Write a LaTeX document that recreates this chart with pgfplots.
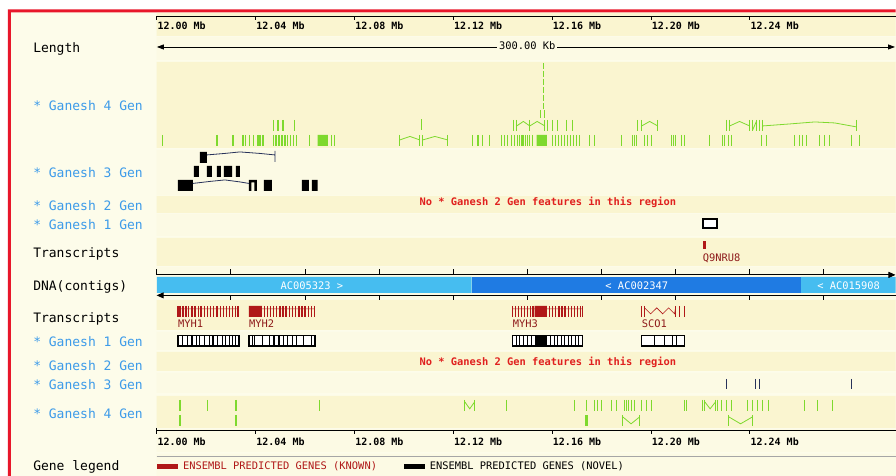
\documentclass[border=0pt]{standalone}
\usepackage{pgfplots}
\pgfplotsset{compat=1.18}
\usepackage{fontspec}
\setmainfont{DejaVu Sans Mono}
\usetikzlibrary{arrows.meta}
\definecolor{bandA}{HTML}{FAF5D0}
\definecolor{bandB}{HTML}{FCFAE4}
\definecolor{pagec}{HTML}{FDFCEA}
\definecolor{gfour}{HTML}{7ED92E}
\definecolor{lblue}{HTML}{3D9BE9}
\definecolor{redtxt}{HTML}{E0201E}
\definecolor{gene}{HTML}{B01818}
\definecolor{genetxt}{HTML}{8E1A1A}
\definecolor{bordc}{HTML}{E8172A}
\definecolor{cLight}{HTML}{46BDF0}
\definecolor{cDark}{HTML}{1F7BE3}
\definecolor{navy}{HTML}{28325A}
\newcommand{\lab}{\fontsize{13}{15}\selectfont}
\newcommand{\sml}{\fontsize{10.4}{12}\selectfont}
\newcommand{\scl}{\fontsize{10}{12}\selectfont\bfseries}
\pgfplotsset{
  feat/.style n args={3}{only marks, mark=|, mark size=#1, color=#2, mark options={solid, line width=#3}},
  blk/.style={fill=#1, draw=none},
}
\tikzset{
  lbl/.style={anchor=base west, inner sep=0pt, font=\lab},
  glbl/.style={anchor=base west, inner sep=0pt, font=\lab, text=lblue},
}
\begin{document}
\begin{tikzpicture}
\begin{axis}[
  width=896pt, height=476pt, scale only axis,
  xmin=11936.615, xmax=12299.047, ymin=0, ymax=476, y dir=reverse,
  hide axis, clip=false, unbounded coords=jump,
]
% page background and border
\addplot[blk=white] coordinates {(11936.615,0)(12299.047,0)(12299.047,476)(11936.615,476)};
\addplot[blk=pagec] coordinates {(11941.06,12.5)(12299.047,12.5)(12299.047,476)(11941.06,476)};
\addplot[blk=bordc] coordinates {(11939.85,9.5)(12299.047,9.5)(12299.047,12.5)(11939.85,12.5) (nan,nan)
  (11939.85,9.5)(11941.06,9.5)(11941.06,476)(11939.85,476)};
% track bands
\addplot[blk=bandA] coordinates {
 (12000,13)(12299.047,13)(12299.047,36)(12000,36) (nan,nan)
 (12000,62)(12299.047,62)(12299.047,148)(12000,148) (nan,nan)
 (12000,196)(12299.047,196)(12299.047,213)(12000,213) (nan,nan)
 (12000,238)(12299.047,238)(12299.047,266)(12000,266) (nan,nan)
 (12000,300)(12299.047,300)(12299.047,330)(12000,330) (nan,nan)
 (12000,352)(12299.047,352)(12299.047,371)(12000,371) (nan,nan)
 (12000,396)(12299.047,396)(12299.047,428)(12000,428)};
\addplot[blk=bandB] coordinates {
 (12000,37)(12299.047,37)(12299.047,60)(12000,60) (nan,nan)
 (12000,150)(12299.047,150)(12299.047,195)(12000,195) (nan,nan)
 (12000,214)(12299.047,214)(12299.047,236)(12000,236) (nan,nan)
 (12000,267)(12299.047,267)(12299.047,298)(12000,298) (nan,nan)
 (12000,332)(12299.047,332)(12299.047,350)(12000,350) (nan,nan)
 (12000,373)(12299.047,373)(12299.047,393)(12000,393) (nan,nan)
 (12000,429)(12299.047,429)(12299.047,452)(12000,452) (nan,nan)
 (12000,454)(12299.047,454)(12299.047,476)(12000,476)};

% ---------- top scale ----------
\addplot[black, line width=0.7pt] coordinates {(12000,16.5)(12299.047,16.5) (nan,nan)
 (12000,16.5)(12000,20) (nan,nan) (12040,16.5)(12040,20) (nan,nan) (12080,16.5)(12080,20) (nan,nan)
 (12120,16.5)(12120,20) (nan,nan) (12160,16.5)(12160,20) (nan,nan) (12200,16.5)(12200,20) (nan,nan)
 (12240,16.5)(12240,20)};
\node[anchor=base west, inner sep=0pt, font=\scl] at (axis cs:12000.3,30) {12.00 Mb};
\node[anchor=base west, inner sep=0pt, font=\scl] at (axis cs:12040.3,30) {12.04 Mb};
\node[anchor=base west, inner sep=0pt, font=\scl] at (axis cs:12080.3,30) {12.08 Mb};
\node[anchor=base west, inner sep=0pt, font=\scl] at (axis cs:12120.3,30) {12.12 Mb};
\node[anchor=base west, inner sep=0pt, font=\scl] at (axis cs:12160.3,30) {12.16 Mb};
\node[anchor=base west, inner sep=0pt, font=\scl] at (axis cs:12200.3,30) {12.20 Mb};
\node[anchor=base west, inner sep=0pt, font=\scl] at (axis cs:12240.3,30) {12.24 Mb};

% ---------- Length ----------
\addplot[black, line width=0.8pt, {Triangle[length=7pt,width=5pt]}-{Triangle[length=7pt,width=5pt]}] coordinates {(12000.1,47)(12298.8,47)};
\node[fill=bandB, inner sep=2pt, anchor=base, font=\sml] at (axis cs:12150,50) {300.00 Kb};

% ---------- Ganesh 4 Gen (top) ----------
\addplot[feat={5.5}{gfour}{1.3pt}] coordinates {
 (12002.5,140.5)(12024.4,140.5)(12030.9,140.5)(12034.9,140.5)(12036.1,140.5)(12037.7,140.5)(12039.3,140.5)
 (12041.0,140.5)(12041.8,140.5)(12043.0,140.5)(12047.4,140.5)(12048.3,140.5)(12049.5,140.5)(12050.7,140.5)
 (12051.9,140.5)(12053.1,140.5)(12054.3,140.5)(12055.5,140.5)(12056.7,140.5)(12062.0,140.5)(12070.9,140.5)
 (12072.1,140.5)(12098.4,140.5)(12106.5,140.5)(12107.7,140.5)(12117.8,140.5)(12127.9,140.5)(12130.0,140.5)
 (12132.0,140.5)(12134.8,140.5)(12139.7,140.5)(12140.9,140.5)(12142.1,140.5)(12143.7,140.5)(12144.9,140.5)
 (12146.1,140.5)(12146.9,140.5)(12147.8,140.5)(12148.6,140.5)(12149.4,140.5)(12150.2,140.5)(12151.0,140.5)
 (12152.2,140.5)(12160.3,140.5)(12161.5,140.5)(12162.7,140.5)(12163.9,140.5)(12165.1,140.5)(12166.4,140.5)
 (12167.6,140.5)(12168.8,140.5)(12170.0,140.5)(12171.2,140.5)(12175.3,140.5)(12177.3,140.5)(12188.2,140.5)
 (12192.7,140.5)(12193.5,140.5)(12194.3,140.5)(12197.5,140.5)(12198.7,140.5)(12200.3,140.5)(12208.4,140.5)
 (12209.2,140.5)(12210.0,140.5)(12212.5,140.5)(12213.7,140.5)(12223.8,140.5)(12229.1,140.5)(12229.9,140.5)
 (12231.5,140.5)(12232.7,140.5)(12244.8,140.5)(12246.9,140.5)(12258.2,140.5)(12260.2,140.5)(12261.4,140.5)
 (12263.0,140.5)(12268.3,140.5)(12270.3,140.5)(12272.3,140.5)(12281.2,140.5)(12284.5,140.5)};
\addplot[blk=gfour] coordinates {(12065.2,135)(12069.3,135)(12069.3,146)(12065.2,146) (nan,nan)
 (12153.8,135)(12157.9,135)(12157.9,146)(12153.8,146)};
\addplot[feat={5.5}{gfour}{1.3pt}] coordinates {
 (12047.4,125.5)(12049.1,125.5)(12051.1,125.5)(12055.9,125.5)(12107.3,125)(12144.5,125.5)(12145.7,125.5)
 (12151.0,125.5)(12157.1,125.5)(12158.3,125.5)(12160.3,125.5)(12162.3,125.5)(12166.0,125.5)(12168.4,125.5)
 (12194.7,125.5)(12196.3,125.5)(12202.8,125.5)(12230.7,125.5)(12231.9,125.5)(12240.0,125.5)(12241.2,125.5)
 (12242.8,125.5)(12244.0,125.5)(12245.2,125.5)(12283.3,125.5)};
\addplot[feat={4}{gfour}{1.1pt}] coordinates {(12155.4,114)(12157.1,114)};
\addplot[feat={3}{gfour}{1.1pt}] coordinates {(12156.7,66)(12156.7,74)(12156.7,82)(12156.7,90)(12156.7,98)(12156.7,106)};
\addplot[gfour, line width=0.8pt] coordinates {
 (12098.4,140)(12102.5,136.5)(12106.5,140) (nan,nan) (12107.7,140)(12112.6,136.5)(12117.8,140) (nan,nan)
 (12145.7,126)(12148.4,121.5)(12151.0,126) (nan,nan) (12151.0,126)(12154.0,121.5)(12157.1,126) (nan,nan)
 (12196.3,126)(12199.5,121.5)(12202.8,126) (nan,nan) (12231.9,126)(12235.9,121.5)(12240.0,126) (nan,nan)
 (12241.2,130)(12242.8,121) (nan,nan)
 (12245.2,126)(12256.2,124)(12266.3,122)(12274.4,123)(12283.3,127)};

% ---------- Ganesh 3 Gen (top) ----------
\addplot[blk=black] coordinates {
 (12017.5,152)(12020.3,152)(12020.3,163)(12017.5,163) (nan,nan)
 (12015.1,166)(12017.1,166)(12017.1,177)(12015.1,177) (nan,nan)
 (12020.3,166)(12022.4,166)(12022.4,177)(12020.3,177) (nan,nan)
 (12024.4,166)(12026.0,166)(12026.0,177)(12024.4,177) (nan,nan)
 (12027.2,166)(12030.5,166)(12030.5,177)(12027.2,177) (nan,nan)
 (12032.1,166)(12033.7,166)(12033.7,177)(12032.1,177) (nan,nan)
 (12008.6,180)(12014.7,180)(12014.7,191)(12008.6,191) (nan,nan)
 (12037.3,180)(12038.3,180)(12038.3,191)(12037.3,191) (nan,nan)
 (12039.6,180)(12040.6,180)(12040.6,191)(12039.6,191) (nan,nan)
 (12037.3,180)(12040.6,180)(12040.6,182.5)(12037.3,182.5) (nan,nan)
 (12043.4,180)(12046.6,180)(12046.6,191)(12043.4,191) (nan,nan)
 (12058.8,180)(12061.6,180)(12061.6,191)(12058.8,191) (nan,nan)
 (12062.8,180)(12065.2,180)(12065.2,191)(12062.8,191)};
\addplot[navy, line width=0.8pt] coordinates {
 (12020.3,155)(12027.6,153.5)(12033.7,152)(12041.8,153.5)(12047.9,155) (nan,nan)
 (12047.9,151)(12047.9,162) (nan,nan)
 (12014.7,183.5)(12021.6,181.5)(12027.6,180)(12033.7,182)(12037.3,183.5)};

% ---------- Ganesh 2 Gen (top) ----------
\node[anchor=base, inner sep=0pt, font=\sml\bfseries, text=redtxt] at (axis cs:12158.3,205.5) {No * Ganesh 2 Gen features in this region};

% ---------- Ganesh 1 Gen (top) ----------
\addplot[draw=black, fill=white, line width=2pt, line cap=rect] coordinates {(12221.3,219.5)(12226.8,219.5)(12226.8,228)(12221.3,228)(12221.3,219.5)};

% ---------- Transcripts (top) ----------
\addplot[blk=gene] coordinates {(12221.0,241)(12222.2,241)(12222.2,249.5)(12221.0,249.5)};
\node[anchor=base west, inner sep=0pt, font=\sml, text=genetxt] at (axis cs:12221.0,261.5) {Q9NRU8};

% ---------- DNA (contigs) ----------
\addplot[blk=cLight] coordinates {(12000.1,277)(12127.5,277)(12127.5,293)(12000.1,293) (nan,nan)
 (12260.6,277)(12299.047,277)(12299.047,293)(12260.6,293)};
\addplot[blk=cDark] coordinates {(12127.5,277)(12260.6,277)(12260.6,293)(12127.5,293)};
\addplot[black, line width=0.8pt, -{Triangle[length=7pt,width=6pt]}] coordinates {(12000,275)(12299.0,275)};
\addplot[black, line width=0.8pt, {Triangle[length=7pt,width=6pt]}-] coordinates {(12000,295.5)(12299.047,295.5)};
\addplot[black, line width=0.7pt] coordinates {
 (12000,269.5)(12000,275) (nan,nan) (12030,269.5)(12030,275) (nan,nan) (12060,269.5)(12060,275) (nan,nan)
 (12090,269.5)(12090,275) (nan,nan) (12120,269.5)(12120,275) (nan,nan) (12150,269.5)(12150,275) (nan,nan)
 (12180,269.5)(12180,275) (nan,nan) (12210,269.5)(12210,275) (nan,nan) (12240,269.5)(12240,275) (nan,nan)
 (12270,269.5)(12270,275) (nan,nan)
 (12030,295.5)(12030,300.5) (nan,nan) (12060,295.5)(12060,300.5) (nan,nan)
 (12090,295.5)(12090,300.5) (nan,nan) (12120,295.5)(12120,300.5) (nan,nan) (12150,295.5)(12150,300.5) (nan,nan)
 (12180,295.5)(12180,300.5) (nan,nan) (12210,295.5)(12210,300.5) (nan,nan) (12240,295.5)(12240,300.5) (nan,nan)
 (12270,295.5)(12270,300.5)};
\node[anchor=base, inner sep=0pt, font=\sml, text=white] at (axis cs:12062.8,290) {AC005323 >};
\node[anchor=base, inner sep=0pt, font=\sml, text=white] at (axis cs:12194.3,290) {< AC002347};
\node[anchor=base, inner sep=0pt, font=\sml, text=white] at (axis cs:12280.0,290) {< AC015908};

% ---------- Transcripts (bottom) ----------
\addplot[gene, line width=0.6pt] coordinates {
 (12008.6,309)(12032.9,309) (nan,nan) (12037.3,309)(12064.0,309) (nan,nan) (12144.1,309)(12172.4,309) (nan,nan)
 (12197.5,308)(12199.9,314)(12202.4,308)(12204.8,314)(12207.2,308)(12209.6,314)(12210.0,308)};
\addplot[feat={5.5}{gene}{1.4pt}] coordinates {
 (12008.6,311.5)(12009.5,311.5)(12010.6,311.5)(12011.9,311.5)(12013.0,311.5)(12014.3,311.5)(12015.5,311.5)
 (12016.9,311.5)(12018.0,311.5)(12019.3,311.5)(12020.6,311.5)(12021.8,311.5)(12023.1,311.5)(12024.5,311.5)
 (12025.8,311.5)(12027.0,311.5)(12028.2,311.5)(12029.5,311.5)(12030.7,311.5)(12031.8,311.5)(12032.9,311.5)
 (12043.6,311.5)(12044.9,311.5)(12046.0,311.5)(12047.4,311.5)(12048.6,311.5)(12049.9,311.5)(12051.2,311.5)
 (12052.4,311.5)(12053.7,311.5)(12055.0,311.5)(12056.3,311.5)(12057.6,311.5)(12058.8,311.5)(12060.1,311.5)
 (12061.4,311.5)(12062.7,311.5)(12064.0,311.5)
 (12144.1,311.5)(12145.2,311.5)(12146.4,311.5)(12147.6,311.5)(12148.8,311.5)(12150.0,311.5)(12151.2,311.5)
 (12152.3,311.5)(12159.0,311.5)(12160.3,311.5)(12161.5,311.5)(12162.8,311.5)(12164.0,311.5)(12165.3,311.5)
 (12166.6,311.5)(12167.8,311.5)(12169.1,311.5)(12170.3,311.5)(12171.5,311.5)(12172.4,311.5)
 (12196.3,311.5)(12197.5,311.5)(12210.0,311.5)(12211.7,311.5)(12213.7,311.5)};
\addplot[blk=gene] coordinates {(12037.3,306)(12042.6,306)(12042.6,317)(12037.3,317) (nan,nan)
 (12153.0,306)(12157.9,306)(12157.9,317)(12153.0,317)};
\node[anchor=base west, inner sep=0pt, font=\sml, text=genetxt] at (axis cs:12008.6,327.3) {MYH1};
\node[anchor=base west, inner sep=0pt, font=\sml, text=genetxt] at (axis cs:12037.3,327.3) {MYH2};
\node[anchor=base west, inner sep=0pt, font=\sml, text=genetxt] at (axis cs:12144.1,327.3) {MYH3};
\node[anchor=base west, inner sep=0pt, font=\sml, text=genetxt] at (axis cs:12196.3,327.3) {SCO1};

% ---------- Ganesh 1 Gen (bottom) ----------
\addplot[draw=black, fill=white, line width=1.5pt, line cap=rect] coordinates {
 (12008.6,335.5)(12033.3,335.5)(12033.3,346)(12008.6,346)(12008.6,335.5) (nan,nan)
 (12037.3,335.5)(12064.1,335.5)(12064.1,346)(12037.3,346)(12037.3,335.5) (nan,nan)
 (12144.1,335.5)(12172.4,335.5)(12172.4,346)(12144.1,346)(12144.1,335.5) (nan,nan)
 (12196.3,335.5)(12213.7,335.5)(12213.7,346)(12196.3,346)(12196.3,335.5)};
\addplot[feat={5.2}{black}{1.1pt}] coordinates {
 (12010.6,340.8)(12012.5,340.8)(12014.3,340.8)(12016.0,340.8)(12017.3,340.8)(12019.5,340.8)(12021.5,340.8)
 (12022.8,340.8)(12024.8,340.8)(12026.5,340.8)(12028.0,340.8)(12029.5,340.8)(12030.8,340.8)(12032.0,340.8)
 (12038.8,340.8)(12039.6,340.8)(12043.0,340.8)(12045.5,340.8)(12047.5,340.8)(12049.5,340.8)(12051.2,340.8)
 (12053.0,340.8)(12055.0,340.8)(12056.5,340.8)(12059.5,340.8)(12062.5,340.8)
 (12145.5,340.8)(12147.0,340.8)(12148.6,340.8)(12150.0,340.8)(12151.6,340.8)(12159.5,340.8)(12161.0,340.8)
 (12162.4,340.8)(12163.8,340.8)(12165.2,340.8)(12166.6,340.8)(12168.0,340.8)(12169.4,340.8)(12170.8,340.8)
 (12201.6,340.8)(12205.6,340.8)(12208.8,340.8)(12210.5,340.8)};
\addplot[blk=black] coordinates {(12153.0,335.5)(12157.9,335.5)(12157.9,346)(12153.0,346)};

% ---------- Ganesh 2 Gen (bottom) ----------
\node[anchor=base, inner sep=0pt, font=\sml\bfseries, text=redtxt] at (axis cs:12158.3,366) {No * Ganesh 2 Gen features in this region};

% ---------- Ganesh 3 Gen (bottom) ----------
\addplot[feat={5}{navy}{1.2pt}] coordinates {(12230.7,384)(12242.4,384)(12244.0,384)(12281.2,384)};

% ---------- Ganesh 4 Gen (bottom) ----------
\addplot[feat={5.5}{gfour}{1.3pt}] coordinates {
 (12009.4,405.5)(12020.7,405.5)(12032.1,405.5)(12066.0,405.5)(12124.7,405.5)(12128.7,405.5)(12141.7,405.5)
 (12169.2,405.5)(12174.0,405.5)(12177.3,405.5)(12178.5,405.5)(12180.1,405.5)(12184.2,405.5)(12186.2,405.5)
 (12189.4,405.5)(12190.2,405.5)(12191.0,405.5)(12192.2,405.5)(12193.5,405.5)(12196.3,405.5)(12198.3,405.5)
 (12200.3,405.5)(12213.7,405.5)(12214.5,405.5)(12221.0,405.5)(12221.8,405.5)(12226.2,405.5)(12227.0,405.5)
 (12228.7,405.5)(12230.7,405.5)(12232.7,405.5)(12239.2,405.5)(12241.2,405.5)(12243.2,405.5)(12245.2,405.5)
 (12247.7,405.5)(12262.2,405.5)(12267.5,405.5)(12273.6,405.5)
 (12009.4,420.5)(12032.1,420.5)(12188.6,420.5)(12195.5,420.5)(12231.5,420.5)(12241.2,420.5)};
\addplot[blk=gfour] coordinates {(12173.2,415)(12174.5,415)(12174.5,426)(12173.2,426)};
\addplot[gfour, line width=0.8pt] coordinates {
 (12124.7,402)(12126.7,409)(12128.7,402) (nan,nan) (12221.8,402)(12224.0,409)(12226.2,402) (nan,nan)
 (12188.6,417)(12192.0,424)(12195.5,417) (nan,nan) (12231.5,417)(12236.3,424)(12241.2,417)};

% ---------- bottom scale ----------
\addplot[black, line width=0.7pt] coordinates {(12000,431)(12299.047,431) (nan,nan)
 (12000,428)(12000,434.5) (nan,nan) (12040,431)(12040,434.5) (nan,nan) (12080,431)(12080,434.5) (nan,nan)
 (12120,431)(12120,434.5) (nan,nan) (12160,431)(12160,434.5) (nan,nan) (12200,431)(12200,434.5) (nan,nan)
 (12240,431)(12240,434.5)};
\node[anchor=base west, inner sep=0pt, font=\scl] at (axis cs:12000.3,445.5) {12.00 Mb};
\node[anchor=base west, inner sep=0pt, font=\scl] at (axis cs:12040.3,445.5) {12.04 Mb};
\node[anchor=base west, inner sep=0pt, font=\scl] at (axis cs:12080.3,445.5) {12.08 Mb};
\node[anchor=base west, inner sep=0pt, font=\scl] at (axis cs:12120.3,445.5) {12.12 Mb};
\node[anchor=base west, inner sep=0pt, font=\scl] at (axis cs:12160.3,445.5) {12.16 Mb};
\node[anchor=base west, inner sep=0pt, font=\scl] at (axis cs:12200.3,445.5) {12.20 Mb};
\node[anchor=base west, inner sep=0pt, font=\scl] at (axis cs:12240.3,445.5) {12.24 Mb};

% ---------- gene legend ----------
\addplot[gray!70, line width=0.8pt] coordinates {(12000,456.5)(12299.047,456.5)};
\addplot[blk=gene] coordinates {(12000.1,464)(12008.6,464)(12008.6,469.5)(12000.1,469.5)};
\addplot[blk=black] coordinates {(12100.0,464)(12108.5,464)(12108.5,469.5)(12100.0,469.5)};
\node[anchor=base west, inner sep=0pt, font=\sml, text=gene] at (axis cs:12010.6,470) {ENSEMBL PREDICTED GENES (KNOWN)};
\node[anchor=base west, inner sep=0pt, font=\sml] at (axis cs:12110.5,470) {ENSEMBL PREDICTED GENES (NOVEL)};

% ---------- track labels ----------
\node[lbl] at (axis cs:11950.0,53) {Length};
\node[glbl] at (axis cs:11950.0,111) {* Ganesh 4 Gen};
\node[glbl] at (axis cs:11950.0,178) {* Ganesh 3 Gen};
\node[glbl] at (axis cs:11950.0,210.5) {* Ganesh 2 Gen};
\node[glbl] at (axis cs:11950.0,229.5) {* Ganesh 1 Gen};
\node[lbl] at (axis cs:11950.0,258) {Transcripts};
\node[lbl] at (axis cs:11950.0,291) {DNA(contigs)};
\node[lbl] at (axis cs:11950.0,323) {Transcripts};
\node[glbl] at (axis cs:11950.0,346.5) {* Ganesh 1 Gen};
\node[glbl] at (axis cs:11950.0,370.5) {* Ganesh 2 Gen};
\node[glbl] at (axis cs:11950.0,390) {* Ganesh 3 Gen};
\node[glbl] at (axis cs:11950.0,419) {* Ganesh 4 Gen};
\node[lbl] at (axis cs:11950.0,470.5) {Gene legend};
\end{axis}
\end{tikzpicture}
\end{document}
